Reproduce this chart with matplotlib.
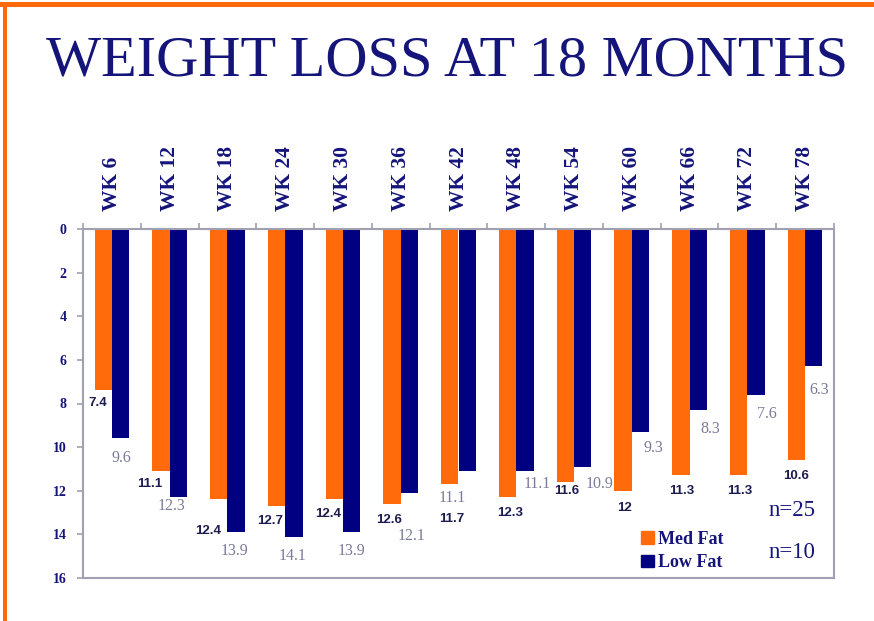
import numpy as np
import matplotlib
matplotlib.use("Agg")
import matplotlib.pyplot as plt
from matplotlib.patches import Rectangle, Patch

# data
weeks = ["WK 6", "WK 12", "WK 18", "WK 24", "WK 30", "WK 36", "WK 42",
         "WK 48", "WK 54", "WK 60", "WK 66", "WK 72", "WK 78"]
med_fat = [7.4, 11.1, 12.4, 12.7, 12.4, 12.6, 11.7, 12.3, 11.6, 12, 11.3, 11.3, 10.6]
low_fat = [9.6, 12.3, 13.9, 14.1, 13.9, 12.1, 11.1, 11.1, 10.9, 9.3, 8.3, 7.6, 6.3]
med_n = "n=25"
low_n = "n=10"

# label nudges (category units / kg), mimicking the slide's hand placement
med_dx = [-0.24, -0.34, -0.34, -0.26, -0.26, -0.21, -0.12, -0.11, -0.13, -0.12, -0.14, -0.13, -0.15]
med_dy = [0.6, 0.58, 1.44, 0.68, 0.66, 0.73, 1.59, 0.71, 0.4, 0.78, 0.7, 0.7, 0.71]
low_dx = [0.16, 0.04, 0.13, 0.13, 0.15, 0.19, -0.10, 0.37, 0.44, 0.38, 0.35, 0.33, 0.25]
low_dy = [0.88, 0.39, 0.86, 0.89, 0.86, 1.97, 1.22, 0.58, 0.78, 0.72, 0.85, 0.86, 1.1]

ORANGE = "#ff6a0a"
NAVY = "#000080"
TEXT = "#14147a"
GRID = "#a0a0b0"

W, H = 874, 621
fig = plt.figure(figsize=(W / 100, H / 100), dpi=100)
fig.patch.set_facecolor("white")

# orange slide border (top + left)
fig.add_artist(Rectangle((0, 1 - 7 / H), 1, 5 / H, transform=fig.transFigure,
                         color=ORANGE, lw=0))
fig.add_artist(Rectangle((3 / W, 0), 4 / W, 1 - 2 / H, transform=fig.transFigure,
                         color=ORANGE, lw=0))

fig.text(447 / W, 1 - 75 / H, "WEIGHT LOSS AT 18 MONTHS", ha="center",
         va="baseline", fontsize=42, family="Liberation Serif", color=TEXT)

left, right, top, bottom = 83, 834, 229, 578
ax = fig.add_axes([left / W, 1 - bottom / H, (right - left) / W, (bottom - top) / H])

x = np.arange(len(weeks))
bw = 0.3
ax.bar(x - 0.15, med_fat, bw, color=ORANGE, label="Med Fat")
ax.bar(x + 0.15, low_fat, bw, color=NAVY, label="Low Fat")

ax.set_xlim(-0.5, len(weeks) - 0.5)
ax.set_ylim(16, 0)

for i in range(len(weeks)):
    ax.text(i + med_dx[i], med_fat[i] + med_dy[i], f"{med_fat[i]:g}", ha="center",
            va="center", fontsize=9.5, fontweight="bold", family="Liberation Sans",
            color="#1c1c50")
    ax.text(i + low_dx[i], low_fat[i] + low_dy[i], f"{low_fat[i]:g}", ha="center",
            va="center", fontsize=11.5, family="Liberation Serif", color="#7a7a9a")

# category labels along the top
ax.xaxis.tick_top()
ax.set_xticks(x)
ax.set_xticklabels(weeks, rotation=90, fontsize=15.5, fontweight="bold",
                   family="Liberation Serif", color=TEXT)
ax.set_xticks(np.arange(-0.5, len(weeks)), minor=True)
ax.tick_params(axis="x", which="major", length=0, pad=13)
ax.tick_params(axis="x", which="minor", length=4, width=1.2, color=GRID, top=True,
               bottom=False, direction="out")

ax.set_yticks(np.arange(0, 17, 2))
ax.set_yticklabels([str(v) for v in range(0, 17, 2)], fontsize=10, fontweight="bold",
                   family="Liberation Serif", color=TEXT)
ax.tick_params(axis="y", length=4, width=1.2, color=GRID, pad=8)

for s in ax.spines.values():
    s.set_color(GRID)
    s.set_linewidth(1.5)

handles = [Patch(color=ORANGE), Patch(color=NAVY)]
ax.legend(handles, ["Med Fat", "Low Fat"], loc="upper left",
          bbox_to_anchor=(632 / W, 1 - 522 / H), bbox_transform=fig.transFigure,
          frameon=False, handlelength=0.7, handleheight=0.7, handletextpad=0.25,
          labelspacing=0.35, borderpad=0,
          prop={"family": "Liberation Serif", "weight": "bold", "size": 13},
          labelcolor=TEXT)

fig.text(792 / W, 1 - 510 / H, med_n, ha="center", va="center", fontsize=16.5,
         family="Liberation Serif", color=TEXT)
fig.text(792 / W, 1 - 553 / H, low_n, ha="center", va="center", fontsize=16.5,
         family="Liberation Serif", color=TEXT)

fig.savefig("out.png", dpi=100)
